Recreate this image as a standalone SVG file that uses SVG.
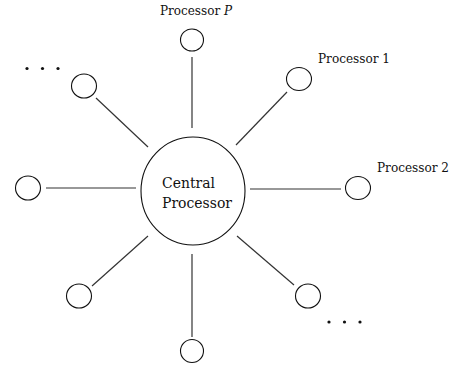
<svg xmlns="http://www.w3.org/2000/svg" width="455" height="369" viewBox="0 0 455 369">
<style>
.n{fill:none;stroke:#111;stroke-width:1.1}
.c line{stroke:#333;stroke-width:1.2}
.t{font-family:"DejaVu Serif","Liberation Serif",serif;fill:#111}
.d{fill:#111}
</style>
<rect width="455" height="369" fill="#fff"/>
<g class="c" id="connectors">
<line x1="192" y1="128" x2="192" y2="57"/>
<line x1="192" y1="254" x2="192" y2="337"/>
<line x1="136" y1="188" x2="46" y2="188"/>
<line x1="250" y1="189" x2="341" y2="189"/>
<line x1="236" y1="145" x2="287" y2="92"/>
<line x1="148" y1="147" x2="96" y2="98"/>
<line x1="148" y1="236" x2="92" y2="286"/>
<line x1="237" y1="236" x2="294" y2="285"/>
</g>
<g id="central">
<ellipse class="n" cx="193" cy="191" rx="52" ry="54"/>
<text class="t" x="162" y="188" font-size="14" textLength="53" lengthAdjust="spacingAndGlyphs">Central</text>
<text class="t" x="162" y="208" font-size="14" textLength="70" lengthAdjust="spacingAndGlyphs">Processor</text>
</g>
<g id="procP">
<ellipse class="n" cx="192" cy="40" rx="11.5" ry="11"/>
<text class="t" x="160" y="15" font-size="12">Processor <tspan font-style="italic">P</tspan></text>
</g>
<g id="proc1">
<ellipse class="n" cx="299" cy="79" rx="12.5" ry="11.5"/>
<text class="t" x="318" y="63" font-size="12" textLength="72" lengthAdjust="spacingAndGlyphs">Processor 1</text>
</g>
<g id="proc2">
<ellipse class="n" cx="358" cy="188" rx="12.5" ry="11.5"/>
<text class="t" x="377" y="172" font-size="12" textLength="72" lengthAdjust="spacingAndGlyphs">Processor 2</text>
</g>
<g id="procBR">
<ellipse class="n" cx="308" cy="296" rx="12.5" ry="12"/>
</g>
<g id="procB">
<ellipse class="n" cx="192" cy="351" rx="11.5" ry="11.5"/>
</g>
<g id="procBL">
<ellipse class="n" cx="79" cy="296" rx="12.5" ry="12"/>
</g>
<g id="procL">
<ellipse class="n" cx="28" cy="188" rx="12.5" ry="12"/>
</g>
<g id="procUL">
<ellipse class="n" cx="84" cy="86" rx="12.5" ry="12"/>
</g>
<g id="dotsUL">
<circle class="d" cx="27" cy="68.5" r="1.6"/>
<circle class="d" cx="42.5" cy="68.5" r="1.6"/>
<circle class="d" cx="58" cy="68.5" r="1.6"/>
</g>
<g id="dotsBR">
<circle class="d" cx="329" cy="322" r="1.6"/>
<circle class="d" cx="344.5" cy="322" r="1.6"/>
<circle class="d" cx="360" cy="322" r="1.6"/>
</g>
</svg>
